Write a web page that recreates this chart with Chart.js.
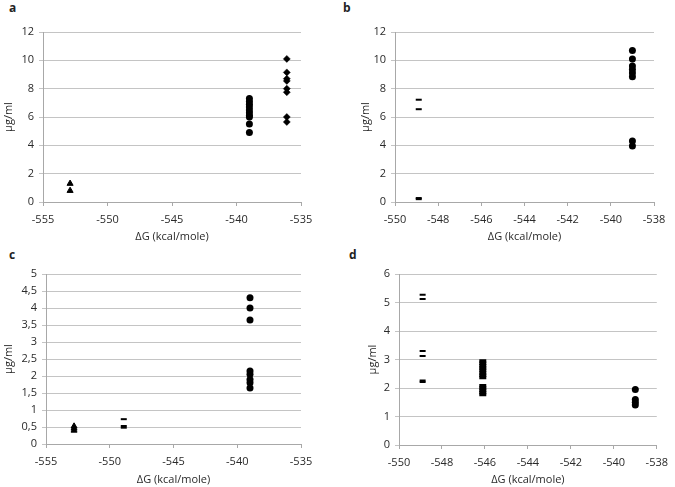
<!DOCTYPE html>
<html>
<head>
<meta charset="utf-8">
<script src="https://cdn.jsdelivr.net/npm/chart.js@4.4.1/dist/chart.umd.min.js"></script>
<style>
  body { margin: 0; background: #fff; width: 675px; height: 487px; position: relative; overflow: hidden; }
  canvas { position: absolute; }
  .lbl { position: absolute; font: bold 12px 'Open Sans', sans-serif; color: #222; }
</style>
</head>
<body>
<div class="lbl" style="left:9px;top:-1px">a</div>
<div class="lbl" style="left:343px;top:-1px">b</div>
<div class="lbl" style="left:9px;top:246px">c</div>
<div class="lbl" style="left:349px;top:246px">d</div>
<canvas id="chartA" width="337" height="243" style="left:0;top:0"></canvas>
<canvas id="chartB" width="338" height="243" style="left:337px;top:0"></canvas>
<canvas id="chartC" width="337" height="244" style="left:0;top:243px"></canvas>
<canvas id="chartD" width="338" height="244" style="left:337px;top:243px"></canvas>
<script>
// ---- ข้อมูล panel a ----
const aTriangleX = -552.9;
const aTriangleY = [1.3, 0.8];
const aCircleX = -539;
const aCircleY = [7.3, 7.1, 6.9, 6.7, 6.5, 6.3, 6.1, 6.0, 5.5, 4.9];
const aDiamondX = -536.1;
const aDiamondY = [10.1, 9.15, 8.7, 8.55, 8.0, 7.75, 6.0, 5.65];

// ---- ข้อมูล panel b ----
const bDashX = -548.9;
const bDashY = [7.22, 6.55, 0.28, 0.2];
const bCircleX = -539;
const bCircleY = [10.7, 10.1, 9.6, 9.35, 9.1, 8.85, 4.3, 3.95];

// ---- ข้อมูล panel c ----
const cTriangleX = -552.8;
const cTriangleY = [0.52, 0.46, 0.4];
const cDashX = -548.9;
const cDashY = [0.73, 0.53, 0.48];
const cCircleX = -539;
const cCircleY = [4.3, 4.0, 3.65, 2.15, 2.05, 1.9, 1.8, 1.65];

// ---- ข้อมูล panel d ----
const dDashX = -548.9;
const dDashY = [5.27, 5.12, 3.3, 3.12, 2.26, 2.21];
const dBlockX = -546.1;
const dBlockY = [2.95, 2.87, 2.78, 2.7, 2.62, 2.53, 2.45, 2.37, 2.08, 2.0, 1.92, 1.84, 1.77];
const dCircleX = -539;
const dCircleY = [1.95, 1.6, 1.5, 1.4];

// ช่วงแกน
const xRangeAC = [-555, -535, 5];
const xRangeBD = [-550, -538, 2];
const yRangeAB = [0, 12, 2];
const yRangeC = [0, 5, 0.5];
const yRangeD = [0, 6, 1];

const textColor = '#2a2a2a';
const gridColor = '#c4c4c4';
const axisColor = '#a8a8a8';
const font = { family: "'Open Sans', sans-serif", size: 11 };

function series(x, ys, style, radius, border) {
  return {
    data: ys.map(y => ({ x: x, y: y })),
    pointStyle: style,
    pointRadius: radius,
    pointHoverRadius: radius,
    backgroundColor: '#000',
    borderColor: '#000',
    borderWidth: border,
    showLine: false
  };
}

function makeChart(id, datasets, xr, yr, lay) {
  const ctx = document.getElementById(id).getContext('2d');
  return new Chart(ctx, {
    type: 'scatter',
    data: { datasets: datasets },
    options: {
      responsive: false,
      animation: false,
      layout: { padding: { left: lay.padLeft, top: lay.padTop, right: lay.padRight, bottom: 0 } },
      plugins: { legend: { display: false }, tooltip: { enabled: false } },
      scales: {
        x: {
          type: 'linear',
          min: xr[0], max: xr[1],
          ticks: { stepSize: xr[2], color: textColor, font: font, padding: 7, maxRotation: 0 },
          grid: { drawOnChartArea: false, drawTicks: true, tickLength: 4, color: axisColor },
          border: { color: axisColor },
          title: { display: true, text: 'ΔG (kcal/mole)', color: textColor, font: font, padding: { top: 0, bottom: lay.titleBottom } },
          afterFit: s => { s.height = lay.xHeight; }
        },
        y: {
          min: yr[0], max: yr[1],
          ticks: { stepSize: yr[2], color: textColor, font: font, padding: 5,
                   callback: v => String(v).replace('.', ',') },
          grid: { color: gridColor, tickLength: 4, drawTicks: true },
          border: { color: axisColor },
          title: { display: true, text: 'µg/ml', color: textColor, font: font, padding: { top: 2, bottom: 0 } },
          afterFit: s => { s.width = lay.yWidth; }
        }
      }
    }
  });
}

makeChart('chartA', [
  series(aTriangleX, aTriangleY, 'triangle', 3.5, 1),
  series(aCircleX, aCircleY, 'circle', 3.5, 0),
  series(aDiamondX, aDiamondY, 'rectRot', 3.5, 0.5)
], xRangeAC, yRangeAB, { padLeft: 0, padTop: 32, padRight: 36, yWidth: 43, xHeight: 41, titleBottom: 0 });

makeChart('chartB', [
  series(bDashX, bDashY, 'line', 3, 2),
  series(bCircleX, bCircleY, 'circle', 3.5, 0)
], xRangeBD, yRangeAB, { padLeft: 20, padTop: 32, padRight: 21, yWidth: 38, xHeight: 41, titleBottom: 0 });

makeChart('chartC', [
  series(cTriangleX, cTriangleY, 'triangle', 3.5, 1),
  series(cDashX, cDashY, 'line', 3, 2),
  series(cCircleX, cCircleY, 'circle', 3.5, 0)
], xRangeAC, yRangeC, { padLeft: 0, padTop: 31, padRight: 36, yWidth: 46, xHeight: 43, titleBottom: 1 });

makeChart('chartD', [
  series(dDashX, dDashY, 'line', 3, 2),
  series(dBlockX, dBlockY, 'line', 3.5, 3.5),
  series(dCircleX, dCircleY, 'circle', 3.5, 0)
], xRangeBD, yRangeD, { padLeft: 27, padTop: 31, padRight: 12, yWidth: 35, xHeight: 42, titleBottom: 1 });
</script>
</body>
</html>
